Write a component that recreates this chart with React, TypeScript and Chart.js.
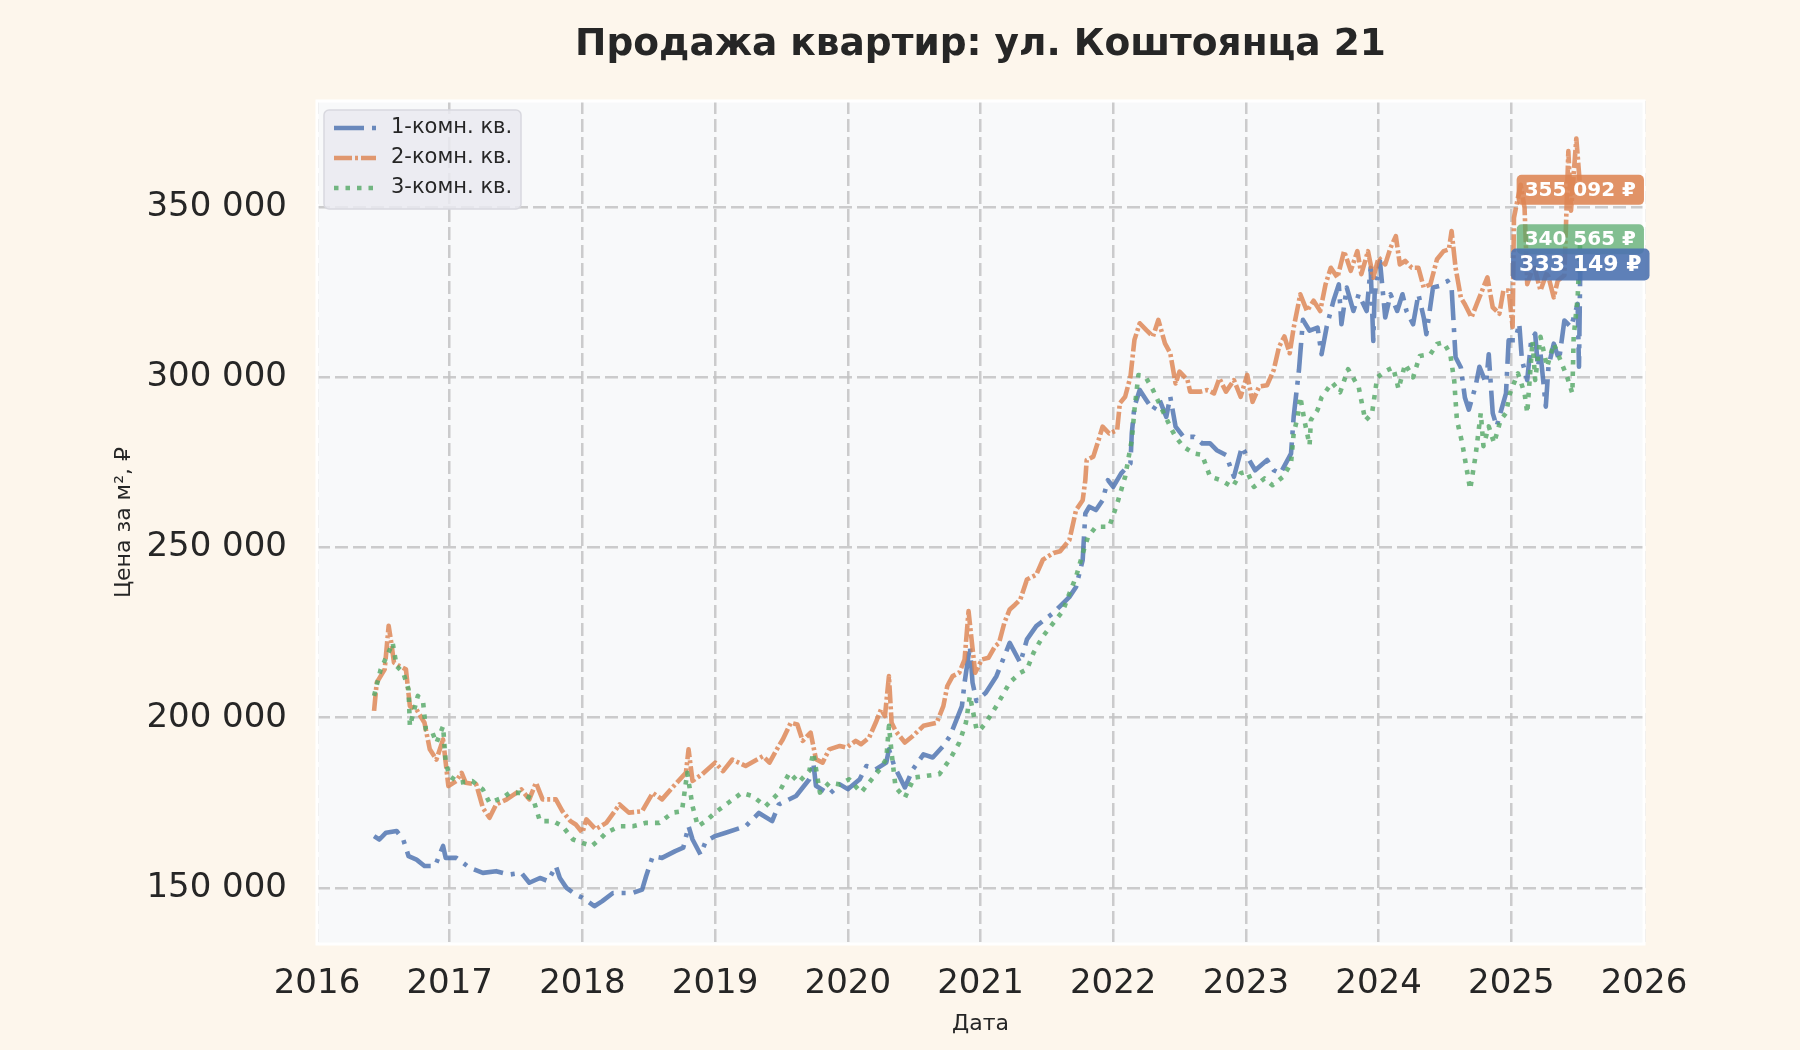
import { useEffect, useRef } from "react";
import { Chart, registerables } from "chart.js";

Chart.register(...registerables);

const FONT = "'DejaVu Sans', sans-serif";
const INK = "#262626";
const PAGE_BG = "#fdf6ec";
const PLOT_BG = "#f8f9fa";

const TITLE = "Продажа квартир: ул. Коштоянца 21";
const X_TITLE = "Дата";
const Y_TITLE = "Цена за м², ₽";
const SERIES_LABELS = ["1-комн. кв.", "2-комн. кв.", "3-комн. кв."];
const SERIES_COLORS = ["rgba(76,114,176,0.82)", "rgba(221,132,82,0.82)", "rgba(85,168,104,0.82)"];
const SERIES_DASH = [
  [30, 8, 4, 8],
  [18, 3, 3, 3],
  [4.5, 7],
];
const X_TICKS = [2016, 2017, 2018, 2019, 2020, 2021, 2022, 2023, 2024, 2025, 2026];
const Y_TICKS = [150000, 200000, 250000, 300000, 350000];

// 1-комн. кв.
const ONE_T = [
  2016.43, 2016.47, 2016.52, 2016.6, 2016.65, 2016.69, 2016.75, 2016.81, 2016.89, 2016.95, 2016.97,
  2017.05, 2017.15, 2017.25, 2017.35, 2017.45, 2017.54, 2017.6, 2017.68, 2017.74, 2017.8, 2017.83, 2017.88, 2017.95,
  2018.0, 2018.09, 2018.15, 2018.23, 2018.32, 2018.38, 2018.45, 2018.48, 2018.53, 2018.6, 2018.7, 2018.76, 2018.8, 2018.83, 2018.89, 2018.93,
  2019.0, 2019.08, 2019.23, 2019.33, 2019.43, 2019.48, 2019.61, 2019.71, 2019.74, 2019.76, 2019.86, 2019.94,
  2020.0, 2020.09, 2020.14, 2020.21, 2020.29, 2020.31, 2020.35, 2020.43, 2020.49, 2020.57, 2020.64, 2020.72, 2020.77, 2020.86, 2020.88, 2020.92, 2020.94, 2020.97,
  2021.04, 2021.12, 2021.22, 2021.3, 2021.35, 2021.42, 2021.55, 2021.65, 2021.67, 2021.72, 2021.77, 2021.79, 2021.82, 2021.87, 2021.92, 2021.96,
  2022.0, 2022.06, 2022.13, 2022.14, 2022.16, 2022.2, 2022.25, 2022.3, 2022.35, 2022.4, 2022.43, 2022.47, 2022.53, 2022.61, 2022.67, 2022.73, 2022.78, 2022.85, 2022.91, 2022.97,
  2023.01, 2023.07, 2023.16, 2023.21, 2023.26, 2023.34, 2023.36, 2023.4, 2023.43, 2023.48, 2023.54, 2023.57, 2023.61, 2023.66, 2023.7, 2023.72, 2023.76, 2023.81, 2023.85, 2023.91, 2023.94, 2023.96, 2023.97,
  2024.01, 2024.05, 2024.09, 2024.14, 2024.18, 2024.21, 2024.26, 2024.3, 2024.34, 2024.36, 2024.41, 2024.46, 2024.52, 2024.55, 2024.58, 2024.62, 2024.65, 2024.68, 2024.73, 2024.76, 2024.81, 2024.83, 2024.86, 2024.89, 2024.96, 2024.98,
  2025.03, 2025.06, 2025.08, 2025.12, 2025.15, 2025.18, 2025.2, 2025.22, 2025.26, 2025.28, 2025.32, 2025.36, 2025.4, 2025.45, 2025.5, 2025.51, 2025.52,
];
const ONE_P = [
  165200, 164200, 166200, 166700, 164200, 159300, 158300, 156400, 156400, 162300, 158800,
  158800, 155900, 154400, 154900, 153900, 154400, 151500, 152900, 152000, 156400, 152900, 150000, 148000,
  147100, 144600, 146100, 148500, 148500, 148500, 149500, 153400, 159300, 158800, 160800, 161800, 168100, 164200, 159800, 163700,
  165200, 166200, 168100, 172000, 169600, 174500, 177000, 181900, 186800, 180000, 177500, 180400,
  179000, 181900, 185800, 184800, 186800, 190700, 185800, 179500, 184800, 189200, 188300, 191700, 194600, 203400, 210300, 221000, 210300, 204900,
  207300, 212200, 222000, 216100, 223000, 226900, 230800, 234700, 235500, 238400, 246300, 260000, 262000, 261000, 263900, 269800,
  267800, 271800, 274700, 283500, 291400, 296300, 293300, 290400, 293300, 288400, 294300, 285500, 282500, 282500, 280600, 280600, 278600, 277200, 270800, 279600,
  276700, 272700, 275700, 272700, 271800, 277600, 288400, 302200, 316900, 313700, 314600, 306800, 315100, 322500, 327300, 315600, 326400, 319500, 324400, 319500, 332200, 310700, 324400,
  334200, 317600, 324400, 319500, 324400, 319500, 315600, 324400, 317600, 312700, 326400, 326900, 328300, 326400, 305900, 302900, 294100, 290500, 297300, 303100, 298200, 306800, 289500, 285600, 295300, 310900,
  310900, 315800, 305100, 299200, 310900, 312800, 303100, 307000, 291400, 303100, 309900, 305100, 316700, 314800, 321600, 303100, 333149,
];

// 2-комн. кв.
const TWO_T = [
  2016.43, 2016.45, 2016.51, 2016.54, 2016.56, 2016.58, 2016.62, 2016.67, 2016.7, 2016.75, 2016.81, 2016.85, 2016.9, 2016.95, 2016.99,
  2017.05, 2017.09, 2017.12, 2017.2, 2017.25, 2017.3, 2017.35, 2017.43, 2017.54, 2017.6, 2017.65, 2017.7, 2017.8, 2017.85, 2017.91, 2017.95,
  2018.0, 2018.03, 2018.1, 2018.18, 2018.28, 2018.35, 2018.45, 2018.53, 2018.6, 2018.7, 2018.78, 2018.8, 2018.83, 2018.9,
  2019.0, 2019.06, 2019.13, 2019.23, 2019.36, 2019.41, 2019.48, 2019.51, 2019.57, 2019.62, 2019.66, 2019.72, 2019.76, 2019.81, 2019.86, 2019.94, 2019.99,
  2020.06, 2020.1, 2020.16, 2020.21, 2020.25, 2020.28, 2020.31, 2020.33, 2020.36, 2020.43, 2020.49, 2020.57, 2020.67, 2020.72, 2020.75, 2020.79, 2020.84, 2020.88, 2020.91, 2020.93, 2020.96,
  2021.01, 2021.06, 2021.11, 2021.14, 2021.18, 2021.22, 2021.26, 2021.3, 2021.35, 2021.42, 2021.47, 2021.55, 2021.6, 2021.67, 2021.72, 2021.77, 2021.79, 2021.8, 2021.85, 2021.89, 2021.92, 2021.97,
  2022.03, 2022.05, 2022.09, 2022.13, 2022.16, 2022.2, 2022.25, 2022.3, 2022.34, 2022.39, 2022.43, 2022.47, 2022.5, 2022.56, 2022.58, 2022.66, 2022.71, 2022.76, 2022.8, 2022.85, 2022.91, 2022.96,
  2023.01, 2023.05, 2023.1, 2023.16, 2023.21, 2023.25, 2023.29, 2023.33, 2023.36, 2023.41, 2023.46, 2023.51, 2023.56, 2023.6, 2023.64, 2023.69, 2023.74, 2023.79, 2023.84, 2023.87, 2023.92, 2023.96,
  2024.0, 2024.05, 2024.09, 2024.13, 2024.16, 2024.2, 2024.25, 2024.3, 2024.34, 2024.39, 2024.44, 2024.49, 2024.53, 2024.55, 2024.58, 2024.62, 2024.65, 2024.7, 2024.74, 2024.78, 2024.82, 2024.86, 2024.91, 2024.94, 2024.98,
  2025.01, 2025.02, 2025.07, 2025.1, 2025.12, 2025.17, 2025.22, 2025.27, 2025.32, 2025.35, 2025.4, 2025.43, 2025.45, 2025.49, 2025.52,
];
const TWO_P = [
  202000, 210300, 214200, 227000, 222000, 216200, 215200, 214200, 203400, 202400, 198500, 190700, 187700, 193600, 179900,
  181400, 183800, 180900, 180400, 173500, 170600, 174500, 176000, 178900, 176000, 180900, 176000, 176000, 172500, 169600, 168600,
  166200, 170100, 167200, 169100, 174500, 172100, 172500, 177900, 176000, 180400, 183800, 190700, 181400, 183300,
  186800, 184300, 187700, 185800, 188700, 186800, 191700, 193600, 198500, 198000, 193200, 195600, 187800, 186800, 190700, 191700, 191200,
  193200, 192200, 194100, 198500, 202400, 200500, 212200, 198500, 196100, 192700, 194600, 197600, 198500, 203400, 209300, 212200, 213200, 217100, 231300, 223900, 213200,
  217100, 217600, 221000, 222000, 227900, 231800, 233200, 234700, 240600, 242000, 246400, 248400, 248900, 252200, 261000, 263900, 269800, 275700, 276700, 281600, 285500, 283500,
  284500, 292400, 294300, 300200, 311000, 315900, 313900, 312000, 316900, 310000, 307100, 298200, 301700, 299200, 295800, 295800, 296300, 295300, 299700, 295800, 299200, 294300,
  300700, 292800, 297300, 297700, 302200, 309000, 312000, 307100, 314600, 324400, 319500, 322500, 319500, 327300, 332200, 329300, 337100, 331300, 337100, 330300, 337100, 329300,
  335200, 333200, 338100, 341500, 333200, 334200, 332200, 332200, 326400, 327300, 334700, 337100, 337600, 343000, 332200, 323400, 321500, 317600, 321600, 325500, 329400, 320600, 318700, 325500, 325500,
  314800, 346900, 356600, 349800, 327400, 333000, 325500, 331000, 323500, 328400, 330000, 366500, 349000, 370200, 355092,
];

// 3-комн. кв.
const THREE_T = [
  2016.43, 2016.48, 2016.55, 2016.57, 2016.6, 2016.65, 2016.69, 2016.7, 2016.76, 2016.8, 2016.82, 2016.87, 2016.9, 2016.95, 2016.97,
  2017.0, 2017.07, 2017.17, 2017.25, 2017.3, 2017.4, 2017.45, 2017.53, 2017.63, 2017.68, 2017.78, 2017.85, 2017.93,
  2018.0, 2018.07, 2018.13, 2018.18, 2018.28, 2018.38, 2018.48, 2018.58, 2018.68, 2018.75, 2018.79, 2018.83, 2018.87, 2018.93,
  2019.0, 2019.1, 2019.2, 2019.28, 2019.38, 2019.48, 2019.56, 2019.63, 2019.71, 2019.74, 2019.79, 2019.86, 2019.94,
  2020.01, 2020.1, 2020.16, 2020.24, 2020.29, 2020.31, 2020.33, 2020.36, 2020.43, 2020.5, 2020.59, 2020.69, 2020.77, 2020.84, 2020.89, 2020.92, 2020.97, 2020.99,
  2021.04, 2021.12, 2021.22, 2021.3, 2021.35, 2021.4, 2021.47, 2021.55, 2021.62, 2021.67, 2021.72, 2021.77, 2021.81, 2021.87, 2021.97,
  2022.03, 2022.09, 2022.14, 2022.16, 2022.19, 2022.25, 2022.3, 2022.37, 2022.43, 2022.47, 2022.53, 2022.61, 2022.67, 2022.73, 2022.81, 2022.9, 2022.96,
  2023.01, 2023.06, 2023.14, 2023.2, 2023.28, 2023.34, 2023.36, 2023.39, 2023.41, 2023.44, 2023.48, 2023.49, 2023.54, 2023.57, 2023.65, 2023.71, 2023.77, 2023.85, 2023.9, 2023.95, 2023.99,
  2024.06, 2024.11, 2024.15, 2024.2, 2024.26, 2024.31, 2024.39, 2024.44, 2024.49, 2024.54, 2024.57, 2024.59, 2024.63, 2024.66, 2024.69, 2024.73, 2024.77, 2024.79, 2024.83, 2024.87, 2024.92, 2024.96, 2024.99,
  2025.05, 2025.1, 2025.12, 2025.16, 2025.18, 2025.22, 2025.27, 2025.32, 2025.42, 2025.46, 2025.47, 2025.5, 2025.52,
];
const THREE_P = [
  206400, 214200, 220100, 222000, 215200, 213200, 208300, 197500, 206400, 204400, 196600, 195600, 192600, 197500, 186800,
  182800, 180900, 181400, 178900, 175000, 176500, 177900, 177900, 176000, 169600, 169600, 168100, 164200,
  163200, 162300, 164200, 166200, 168100, 168100, 169100, 169100, 172100, 172500, 183800, 174000, 168100, 169600,
  172100, 175000, 177900, 177000, 174000, 177900, 183800, 181000, 184400, 189700, 178000, 180900, 180400,
  181900, 178000, 180900, 184800, 187800, 197600, 189700, 179500, 176500, 182400, 182900, 183400, 187800, 192700, 198500, 206400, 196600, 196100,
  198500, 203400, 210300, 213200, 214200, 219100, 223900, 227900, 231300, 236500, 241400, 248200, 253100, 256100, 256100,
  262900, 270800, 281600, 290400, 300700, 299700, 296300, 290400, 285500, 282500, 279600, 277600, 277200, 270800, 269800, 267800, 271800,
  272300, 267800, 270300, 268300, 270800, 274700, 283500, 288400, 294300, 287500, 280100, 287500, 290400, 294100, 298500, 295600, 302400, 297100, 287300, 289300, 300000,
  302000, 302900, 296600, 303900, 300000, 306300, 306800, 309800, 310300, 306800, 299000, 287500, 280700, 273900, 267100, 276800, 289500, 279800, 285600, 280700, 287500, 289500, 295300,
  301200, 295300, 289500, 310700, 299200, 311900, 303100, 309900, 300200, 295300, 311900, 323500, 340565,
];

const SERIES_T = [ONE_T, TWO_T, THREE_T];
const SERIES_P = [ONE_P, TWO_P, THREE_P];

const fmt = (v: number) => Math.round(v).toString().replace(/\B(?=(\d{3})+(?!\d))/g, " ");

const plotFrame = {
  id: "plotFrame",
  beforeDraw(chart: any) {
    const { ctx, chartArea: a } = chart;
    ctx.save();
    ctx.fillStyle = PLOT_BG;
    ctx.fillRect(a.left, a.top, a.right - a.left, a.bottom - a.top);
    ctx.restore();
  },
  beforeDatasetsDraw(chart: any) {
    const { ctx, chartArea: a } = chart;
    ctx.save();
    ctx.strokeStyle = "#ffffff";
    ctx.lineWidth = 3;
    ctx.strokeRect(a.left, a.top, a.right - a.left, a.bottom - a.top);
    ctx.restore();
  },
};

function roundRect(ctx: CanvasRenderingContext2D, x: number, y: number, w: number, h: number, r: number) {
  ctx.beginPath();
  ctx.moveTo(x + r, y);
  ctx.arcTo(x + w, y, x + w, y + h, r);
  ctx.arcTo(x + w, y + h, x, y + h, r);
  ctx.arcTo(x, y + h, x, y, r);
  ctx.arcTo(x, y, x + w, y, r);
  ctx.closePath();
}

// last-value badges, drawn orange, green, then blue on top
const lastValues = {
  id: "lastValues",
  afterDatasetsDraw(chart: any) {
    const ctx: CanvasRenderingContext2D = chart.ctx;
    const fills = ["rgba(76,114,176,0.9)", "rgba(221,132,82,0.88)", "rgba(85,168,104,0.72)"];
    const sizes = [22, 20, 20];
    for (const i of [1, 2, 0]) {
      const meta = chart.getDatasetMeta(i);
      const pt = meta.data[meta.data.length - 1];
      const vals = chart.data.datasets[i].data;
      const text = fmt(vals[vals.length - 1].y) + " ₽";
      ctx.save();
      ctx.font = `bold ${sizes[i]}px ${FONT}`;
      const w = ctx.measureText(text).width + 16;
      const h = sizes[i] + 10;
      ctx.fillStyle = fills[i];
      roundRect(ctx, pt.x - w / 2, pt.y - h / 2, w, h, 5);
      ctx.fill();
      ctx.fillStyle = "#ffffff";
      ctx.textAlign = "center";
      ctx.textBaseline = "middle";
      ctx.fillText(text, pt.x, pt.y + 1);
      ctx.restore();
    }
  },
};

const boxLegend = {
  id: "boxLegend",
  afterDraw(chart: any) {
    const ctx: CanvasRenderingContext2D = chart.ctx;
    const a = chart.chartArea;
    const x0 = a.left + 7;
    const y0 = a.top + 9;
    ctx.save();
    ctx.fillStyle = "rgba(234,234,240,0.85)";
    ctx.strokeStyle = "#d8d8df";
    ctx.lineWidth = 1.5;
    roundRect(ctx, x0, y0, 197, 99, 5);
    ctx.fill();
    ctx.stroke();
    ctx.font = `21px ${FONT}`;
    ctx.textBaseline = "middle";
    chart.data.datasets.forEach((ds: any, i: number) => {
      const y = y0 + 18 + i * 30;
      ctx.strokeStyle = ds.borderColor;
      ctx.lineWidth = ds.borderWidth;
      ctx.lineCap = "butt";
      ctx.setLineDash(ds.borderDash);
      ctx.beginPath();
      ctx.moveTo(x0 + 10, y);
      ctx.lineTo(x0 + 52, y);
      ctx.stroke();
      ctx.setLineDash([]);
      ctx.fillStyle = INK;
      ctx.fillText(ds.label, x0 + 67, y);
    });
    ctx.restore();
  },
};

export default function App() {
  const canvasRef = useRef<HTMLCanvasElement>(null);
  const chartRef = useRef<Chart | null>(null);

  useEffect(() => {
    const el = canvasRef.current;
    if (!el) return;
    chartRef.current?.destroy();

    const gridOpts = { color: "rgba(195,195,195,0.85)", lineWidth: 2.5, drawTicks: false };
    const borderOpts = { display: false, dash: [13, 5] };

    chartRef.current = new Chart(el, {
      type: "line",
      data: {
        datasets: SERIES_LABELS.map((label, i) => ({
          label,
          data: SERIES_T[i].map((t, j) => ({ x: t, y: SERIES_P[i][j] })),
          borderColor: SERIES_COLORS[i],
          borderWidth: 4.6,
          borderDash: SERIES_DASH[i],
          borderCapStyle: "butt",
          borderJoinStyle: "round",
          pointRadius: 0,
          tension: 0,
          fill: false,
          order: 3 - i,
        })),
      },
      options: {
        responsive: false,
        animation: false,
        devicePixelRatio: 1,
        events: [],
        layout: { padding: { left: 0, right: 156, top: 0, bottom: 0 } },
        plugins: {
          legend: { display: false },
          tooltip: { enabled: false },
          title: {
            display: true,
            fullSize: false,
            text: TITLE,
            color: INK,
            font: { family: FONT, size: 37.5, weight: "bold", lineHeight: 1.2 },
            padding: { top: 23, bottom: 33 },
          },
        },
        scales: {
          x: {
            type: "linear",
            min: 2016,
            max: 2026,
            afterBuildTicks: (s: any) => {
              s.ticks = X_TICKS.map((v) => ({ value: v }));
            },
            afterFit: (s: any) => {
              s.height = 106;
            },
            grid: gridOpts,
            border: borderOpts,
            ticks: { color: INK, font: { family: FONT, size: 34 }, padding: 20, maxRotation: 0, callback: (v: any) => String(v) },
            title: { display: true, text: X_TITLE, color: INK, font: { family: FONT, size: 22 }, padding: { top: 0, bottom: 13 } },
          },
          y: {
            type: "linear",
            min: 133500,
            max: 381200,
            afterBuildTicks: (s: any) => {
              s.ticks = Y_TICKS.map((v) => ({ value: v }));
            },
            afterFit: (s: any) => {
              s.width = 317;
            },
            grid: gridOpts,
            border: borderOpts,
            ticks: { color: INK, font: { family: FONT, size: 34 }, padding: 30, callback: (v: any) => fmt(Number(v)) },
            title: { display: true, text: Y_TITLE, color: INK, font: { family: FONT, size: 22 }, padding: { top: 111, bottom: 0 } },
          },
        },
      } as any,
      plugins: [plotFrame, lastValues, boxLegend],
    });

    return () => chartRef.current?.destroy();
  }, []);

  return (
    <div style={{ position: "fixed", left: 0, top: 0, width: 1800, height: 1050, background: PAGE_BG }}>
      <canvas ref={canvasRef} width={1800} height={1050} style={{ display: "block", width: 1800, height: 1050 }} />
    </div>
  );
}
